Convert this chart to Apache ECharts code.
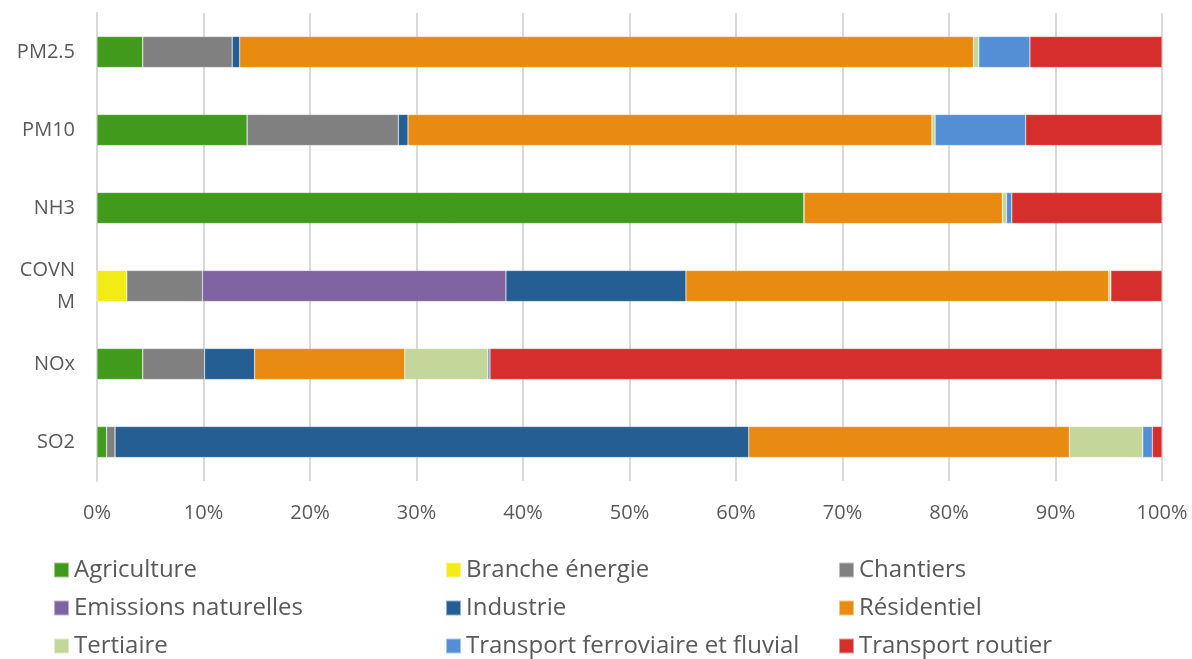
<!DOCTYPE html>
<html><head><meta charset="utf-8">
<script src="https://cdn.jsdelivr.net/npm/echarts@6/dist/echarts.min.js"></script>
<style>html,body{margin:0;padding:0;background:#fff}#c{width:1192px;height:659px}</style>
</head><body><div id="c"></div>
<script>
// Categories top to bottom
const categories = ['PM2.5', 'PM10', 'NH3', 'COVN\nM', 'NOx', 'SO2'];
const xTickLabels = ['0%','10%','20%','30%','40%','50%','60%','70%','80%','90%','100%'];
// Shares (%) per sector, in category order
const agriculture        = [4.3, 14.1, 66.4, 0,    4.3, 0.9];
const brancheEnergie     = [0,   0,    0,    2.8,  0,   0];
const chantiers          = [8.4, 14.2, 0,    7.1,  5.8, 0.8];
const emissionsNat       = [0,   0,    0,    28.5, 0,   0];
const industrie          = [0.7, 0.9,  0,    16.9, 4.7, 59.5];
const residentiel        = [68.9,49.2, 18.6, 39.7, 14.1,30.1];
const tertiaire          = [0.5, 0.3,  0.4,  0.2,  7.8, 6.9];
const transportFerro     = [4.8, 8.5,  0.5,  0,    0.2, 0.9];
const transportRoutier   = [12.4,12.8, 14.1, 4.8,  63.1,0.9];

const seriesDefs = [
  ['Agriculture', agriculture, '#429a1c'],
  ['Branche énergie', brancheEnergie, '#f2ec14'],
  ['Chantiers', chantiers, '#808080'],
  ['Emissions naturelles', emissionsNat, '#8064a2'],
  ['Industrie', industrie, '#245e93'],
  ['Résidentiel', residentiel, '#e88b10'],
  ['Tertiaire', tertiaire, '#c4d79b'],
  ['Transport ferroviaire et fluvial', transportFerro, '#548ed4'],
  ['Transport routier', transportRoutier, '#d62e2c']
];

const FONT = 'Open Sans';
const chart = echarts.init(document.getElementById('c'));
const legendBase = {
  orient: 'vertical', top: 553, height: 200, itemWidth: 15, itemHeight: 15, itemGap: 14,
  icon: 'rect', textStyle: {fontFamily: FONT, fontSize: 24, lineHeight: 24, color: '#595959'},
  selectedMode: false
};
chart.setOption({
  animation: false,
  textStyle: {fontFamily: FONT},
  grid: {left: 97, right: 30, top: 13, bottom: 178, containLabel: false},
  xAxis: {
    type: 'value', min: 0, max: 100, interval: 10,
    axisLabel: {formatter: v => xTickLabels[Math.round(v/10)], fontFamily: FONT, fontSize: 20, color: '#595959', margin: 22},
    splitLine: {show: true, lineStyle: {color: '#d9d9d9', width: 2}},
    axisLine: {show: false}, axisTick: {show: false}
  },
  yAxis: {
    type: 'category', data: categories, inverse: true,
    axisLabel: {fontFamily: FONT, fontSize: 20, color: '#595959', margin: 22, lineHeight: 32},
    axisLine: {show: true, lineStyle: {color: '#d9d9d9', width: 2}}, axisTick: {show: false}
  },
  legend: [
    Object.assign({}, legendBase, {left: 48, data: ['Agriculture','Emissions naturelles','Tertiaire']}),
    Object.assign({}, legendBase, {left: 440, data: ['Branche énergie','Industrie','Transport ferroviaire et fluvial']}),
    Object.assign({}, legendBase, {left: 833, data: ['Chantiers','Résidentiel','Transport routier']})
  ],
  series: seriesDefs.map(([name, data, color]) => ({
    name, type: 'bar', stack: 'total', data, barWidth: 31,
    itemStyle: {color, borderColor: 'rgba(255,255,255,0.5)', borderWidth: 0.5}
  }))
});
</script></body></html>
